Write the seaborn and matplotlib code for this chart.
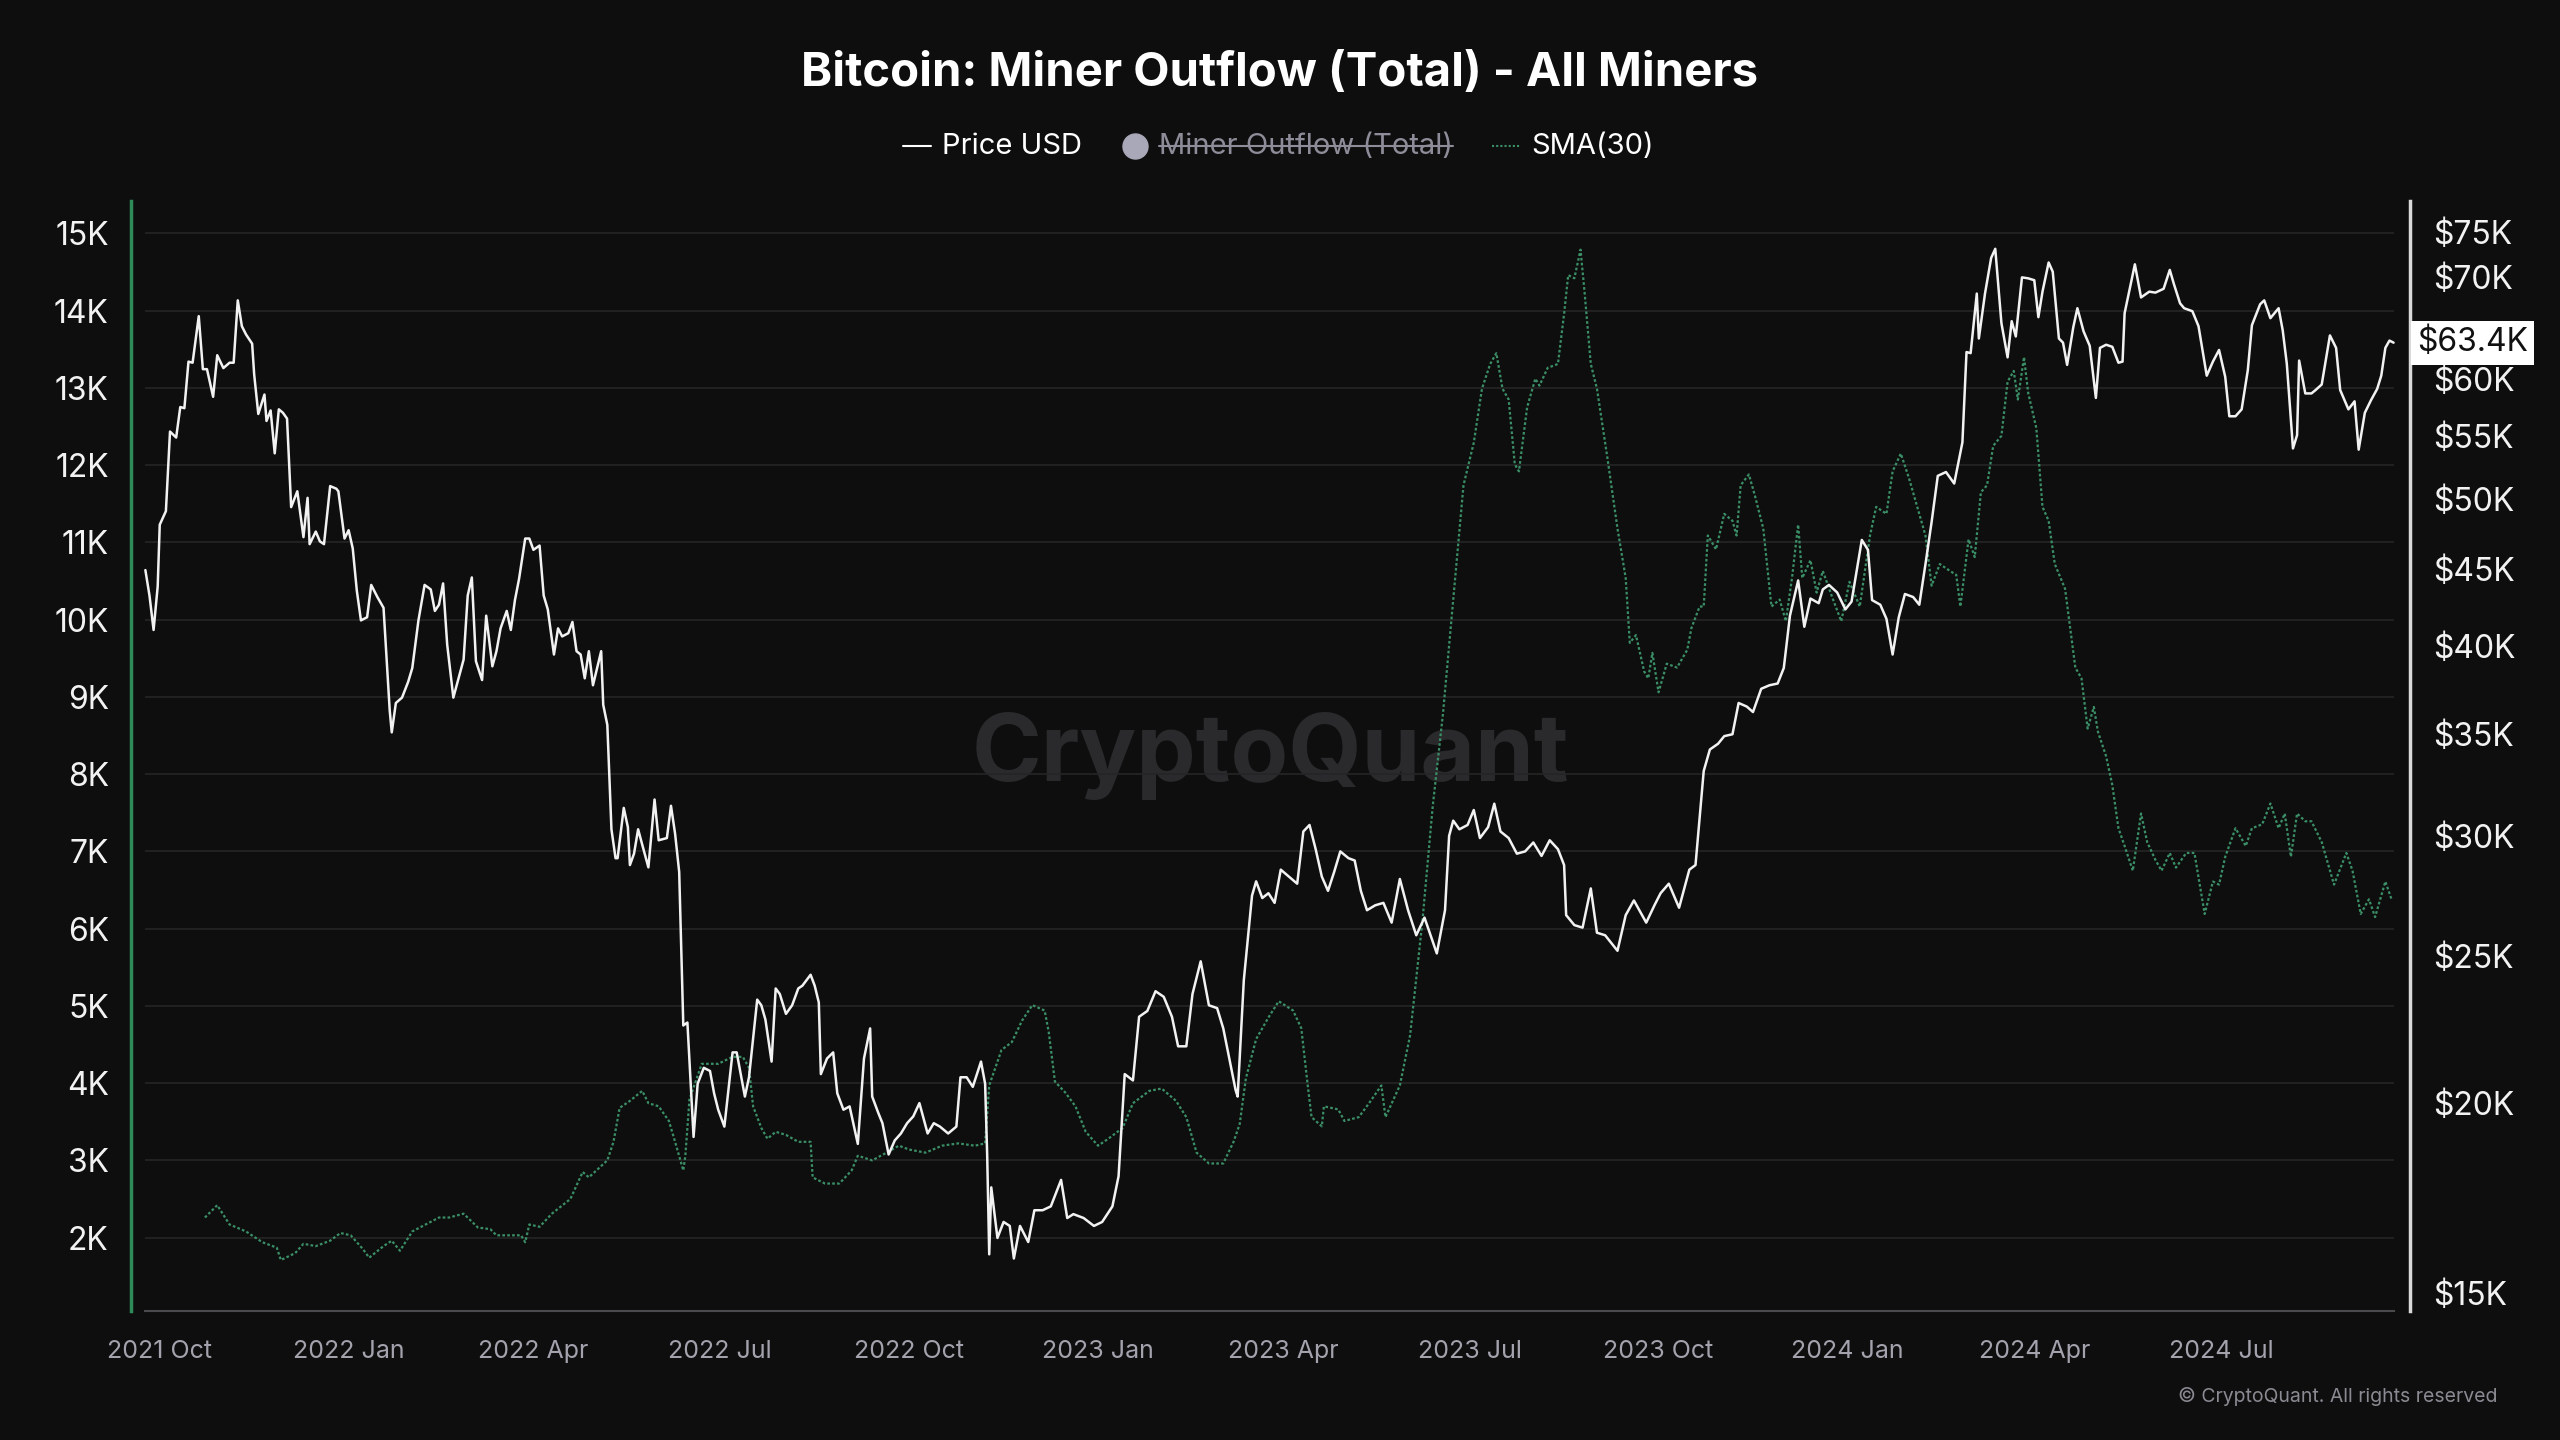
import matplotlib
matplotlib.use("Agg")
import matplotlib.pyplot as plt
import matplotlib.ticker as mticker
import matplotlib.dates as mdates
import matplotlib.transforms as mtransforms
from matplotlib.lines import Line2D
import pandas as pd
import seaborn as sns

# ---- data ----
# BTC price, thousands of USD
price_points = [
    ("2021-09-24", 44.9), ("2021-09-26", 43.2), ("2021-09-28", 41.0), ("2021-09-30", 43.8),
    ("2021-10-01", 48.1), ("2021-10-04", 49.1), ("2021-10-06", 55.4), ("2021-10-09", 54.9),
    ("2021-10-11", 57.5), ("2021-10-13", 57.4), ("2021-10-15", 61.6), ("2021-10-17", 61.5),
    ("2021-10-20", 66.0), ("2021-10-22", 60.9), ("2021-10-24", 60.9), ("2021-10-27", 58.4),
    ("2021-10-29", 62.2), ("2021-11-01", 61.0), ("2021-11-04", 61.5), ("2021-11-06", 61.5),
    ("2021-11-08", 67.6), ("2021-11-10", 65.0), ("2021-11-12", 64.2), ("2021-11-15", 63.3),
    ("2021-11-16", 60.4), ("2021-11-18", 56.9), ("2021-11-21", 58.6), ("2021-11-22", 56.3),
    ("2021-11-24", 57.2), ("2021-11-26", 53.6), ("2021-11-28", 57.3), ("2021-11-30", 57.0),
    ("2021-12-02", 56.5), ("2021-12-04", 49.4), ("2021-12-07", 50.6), ("2021-12-10", 47.2),
    ("2021-12-12", 50.1), ("2021-12-13", 46.7), ("2021-12-16", 47.6), ("2021-12-18", 46.9),
    ("2021-12-20", 46.7), ("2021-12-23", 51.0), ("2021-12-26", 50.8), ("2021-12-27", 50.6),
    ("2021-12-30", 47.1), ("2022-01-01", 47.7), ("2022-01-03", 46.4), ("2022-01-05", 43.5),
    ("2022-01-07", 41.6), ("2022-01-10", 41.8), ("2022-01-12", 43.9), ("2022-01-15", 43.1),
    ("2022-01-18", 42.4), ("2022-01-21", 36.3), ("2022-01-22", 35.1), ("2022-01-24", 36.7),
    ("2022-01-27", 37.0), ("2022-01-30", 37.9), ("2022-02-01", 38.7), ("2022-02-04", 41.6),
    ("2022-02-07", 43.9), ("2022-02-10", 43.6), ("2022-02-12", 42.2), ("2022-02-14", 42.6),
    ("2022-02-16", 44.0), ("2022-02-18", 40.1), ("2022-02-21", 37.0), ("2022-02-24", 38.3),
    ("2022-02-26", 39.2), ("2022-02-28", 43.2), ("2022-03-02", 44.4), ("2022-03-04", 39.1),
    ("2022-03-07", 38.0), ("2022-03-09", 41.9), ("2022-03-12", 38.8), ("2022-03-14", 39.7),
    ("2022-03-16", 41.1), ("2022-03-19", 42.2), ("2022-03-21", 41.0), ("2022-03-23", 42.9),
    ("2022-03-25", 44.3), ("2022-03-28", 47.1), ("2022-03-30", 47.1), ("2022-04-01", 46.3),
    ("2022-04-04", 46.6), ("2022-04-06", 43.2), ("2022-04-08", 42.3), ("2022-04-11", 39.5),
    ("2022-04-13", 41.1), ("2022-04-15", 40.6), ("2022-04-18", 40.8), ("2022-04-20", 41.5),
    ("2022-04-22", 39.7), ("2022-04-24", 39.5), ("2022-04-26", 38.1), ("2022-04-28", 39.7),
    ("2022-04-30", 37.7), ("2022-05-04", 39.7), ("2022-05-05", 36.6), ("2022-05-07", 35.5),
    ("2022-05-09", 30.3), ("2022-05-11", 29.0), ("2022-05-12", 29.0), ("2022-05-15", 31.3),
    ("2022-05-17", 30.4), ("2022-05-18", 28.7), ("2022-05-20", 29.2), ("2022-05-22", 30.3),
    ("2022-05-24", 29.6), ("2022-05-27", 28.6), ("2022-05-30", 31.7), ("2022-06-01", 29.8),
    ("2022-06-05", 29.9), ("2022-06-07", 31.4), ("2022-06-09", 30.1), ("2022-06-11", 28.4),
    ("2022-06-13", 22.5), ("2022-06-15", 22.6), ("2022-06-18", 19.0), ("2022-06-20", 20.6),
    ("2022-06-23", 21.1), ("2022-06-26", 21.0), ("2022-06-28", 20.3), ("2022-06-30", 19.8),
    ("2022-07-03", 19.3), ("2022-07-07", 21.6), ("2022-07-09", 21.6), ("2022-07-13", 20.2),
    ("2022-07-15", 20.8), ("2022-07-19", 23.4), ("2022-07-21", 23.2), ("2022-07-23", 22.7),
    ("2022-07-26", 21.3), ("2022-07-28", 23.8), ("2022-07-30", 23.6), ("2022-08-02", 22.9),
    ("2022-08-05", 23.2), ("2022-08-08", 23.8), ("2022-08-10", 23.9), ("2022-08-14", 24.3),
    ("2022-08-16", 23.9), ("2022-08-18", 23.3), ("2022-08-19", 20.9), ("2022-08-22", 21.4),
    ("2022-08-25", 21.6), ("2022-08-27", 20.3), ("2022-08-30", 19.8), ("2022-09-02", 19.9),
    ("2022-09-06", 18.8), ("2022-09-09", 21.4), ("2022-09-12", 22.4), ("2022-09-13", 20.2),
    ("2022-09-16", 19.7), ("2022-09-18", 19.4), ("2022-09-21", 18.5), ("2022-09-24", 18.9),
    ("2022-09-27", 19.1), ("2022-09-30", 19.4), ("2022-10-03", 19.6), ("2022-10-06", 20.0),
    ("2022-10-10", 19.1), ("2022-10-13", 19.4), ("2022-10-16", 19.3), ("2022-10-20", 19.1),
    ("2022-10-24", 19.3), ("2022-10-26", 20.8), ("2022-10-29", 20.8), ("2022-11-01", 20.5),
    ("2022-11-05", 21.3), ("2022-11-07", 20.6), ("2022-11-08", 18.5), ("2022-11-09", 15.9),
    ("2022-11-10", 17.6), ("2022-11-13", 16.3), ("2022-11-16", 16.7), ("2022-11-19", 16.6),
    ("2022-11-21", 15.8), ("2022-11-24", 16.6), ("2022-11-28", 16.2), ("2022-12-01", 17.0),
    ("2022-12-05", 17.0), ("2022-12-09", 17.1), ("2022-12-14", 17.8), ("2022-12-17", 16.8),
    ("2022-12-20", 16.9), ("2022-12-25", 16.8), ("2022-12-30", 16.6), ("2023-01-03", 16.7),
    ("2023-01-08", 17.1), ("2023-01-11", 17.9), ("2023-01-14", 20.9), ("2023-01-18", 20.7),
    ("2023-01-21", 22.8), ("2023-01-25", 23.0), ("2023-01-29", 23.7), ("2023-02-02", 23.5),
    ("2023-02-06", 22.8), ("2023-02-09", 21.8), ("2023-02-13", 21.8), ("2023-02-16", 23.6),
    ("2023-02-20", 24.8), ("2023-02-24", 23.2), ("2023-02-28", 23.1), ("2023-03-03", 22.4),
    ("2023-03-09", 20.4), ("2023-03-10", 20.2), ("2023-03-13", 24.1), ("2023-03-17", 27.4),
    ("2023-03-19", 28.0), ("2023-03-22", 27.3), ("2023-03-25", 27.5), ("2023-03-28", 27.1),
    ("2023-03-31", 28.5), ("2023-04-04", 28.2), ("2023-04-08", 27.9), ("2023-04-11", 30.2),
    ("2023-04-14", 30.5), ("2023-04-17", 29.4), ("2023-04-20", 28.2), ("2023-04-23", 27.6),
    ("2023-04-26", 28.4), ("2023-04-29", 29.3), ("2023-05-03", 29.0), ("2023-05-06", 28.9),
    ("2023-05-09", 27.6), ("2023-05-12", 26.8), ("2023-05-16", 27.0), ("2023-05-20", 27.1),
    ("2023-05-24", 26.3), ("2023-05-28", 28.1), ("2023-06-01", 26.8), ("2023-06-05", 25.8),
    ("2023-06-09", 26.5), ("2023-06-15", 25.1), ("2023-06-19", 26.8), ("2023-06-21", 30.0),
    ("2023-06-23", 30.7), ("2023-06-26", 30.3), ("2023-06-30", 30.5), ("2023-07-03", 31.2),
    ("2023-07-06", 29.9), ("2023-07-10", 30.4), ("2023-07-13", 31.5), ("2023-07-16", 30.2),
    ("2023-07-20", 29.9), ("2023-07-24", 29.2), ("2023-07-28", 29.3), ("2023-08-01", 29.7),
    ("2023-08-05", 29.1), ("2023-08-09", 29.8), ("2023-08-13", 29.4), ("2023-08-16", 28.7),
    ("2023-08-17", 26.6), ("2023-08-21", 26.2), ("2023-08-25", 26.1), ("2023-08-29", 27.7),
    ("2023-09-01", 25.9), ("2023-09-05", 25.8), ("2023-09-11", 25.2), ("2023-09-15", 26.6),
    ("2023-09-19", 27.2), ("2023-09-25", 26.3), ("2023-09-29", 27.0), ("2023-10-02", 27.5),
    ("2023-10-06", 27.9), ("2023-10-11", 26.9), ("2023-10-16", 28.5), ("2023-10-19", 28.7),
    ("2023-10-23", 33.1), ("2023-10-26", 34.2), ("2023-10-30", 34.5), ("2023-11-02", 34.9),
    ("2023-11-06", 35.0), ("2023-11-09", 36.7), ("2023-11-13", 36.5), ("2023-11-16", 36.2),
    ("2023-11-20", 37.5), ("2023-11-24", 37.7), ("2023-11-28", 37.8), ("2023-12-01", 38.7),
    ("2023-12-04", 41.9), ("2023-12-08", 44.2), ("2023-12-11", 41.2), ("2023-12-14", 43.0),
    ("2023-12-18", 42.7), ("2023-12-20", 43.6), ("2023-12-23", 43.9), ("2023-12-27", 43.4),
    ("2023-12-31", 42.3), ("2024-01-03", 42.8), ("2024-01-08", 47.0), ("2024-01-11", 46.3),
    ("2024-01-13", 42.9), ("2024-01-17", 42.6), ("2024-01-20", 41.7), ("2024-01-23", 39.5),
    ("2024-01-26", 41.8), ("2024-01-29", 43.3), ("2024-02-02", 43.1), ("2024-02-05", 42.6),
    ("2024-02-08", 45.3), ("2024-02-11", 48.3), ("2024-02-14", 51.8), ("2024-02-18", 52.1),
    ("2024-02-22", 51.2), ("2024-02-26", 54.5), ("2024-02-28", 62.5), ("2024-03-01", 62.4),
    ("2024-03-04", 68.3), ("2024-03-05", 63.8), ("2024-03-08", 68.3), ("2024-03-11", 72.1),
    ("2024-03-13", 73.1), ("2024-03-16", 65.3), ("2024-03-19", 62.0), ("2024-03-21", 65.5),
    ("2024-03-23", 64.0), ("2024-03-26", 70.0), ("2024-03-29", 69.9), ("2024-04-01", 69.7),
    ("2024-04-03", 65.9), ("2024-04-05", 68.5), ("2024-04-08", 71.6), ("2024-04-10", 70.6),
    ("2024-04-13", 63.8), ("2024-04-15", 63.4), ("2024-04-17", 61.3), ("2024-04-20", 64.9),
    ("2024-04-22", 66.8), ("2024-04-25", 64.5), ("2024-04-28", 63.1), ("2024-05-01", 58.3),
    ("2024-05-03", 62.9), ("2024-05-06", 63.2), ("2024-05-09", 63.0), ("2024-05-12", 61.5),
    ("2024-05-14", 61.6), ("2024-05-15", 66.3), ("2024-05-20", 71.4), ("2024-05-23", 67.9),
    ("2024-05-27", 68.5), ("2024-05-30", 68.4), ("2024-06-03", 68.8), ("2024-06-06", 70.8),
    ("2024-06-08", 69.3), ("2024-06-11", 67.3), ("2024-06-13", 66.8), ("2024-06-17", 66.5),
    ("2024-06-20", 65.0), ("2024-06-24", 60.3), ("2024-06-27", 61.6), ("2024-06-30", 62.7),
    ("2024-07-03", 60.2), ("2024-07-05", 56.7), ("2024-07-08", 56.7), ("2024-07-11", 57.3),
    ("2024-07-14", 60.8), ("2024-07-16", 65.1), ("2024-07-20", 67.2), ("2024-07-22", 67.6),
    ("2024-07-25", 65.8), ("2024-07-29", 66.8), ("2024-07-31", 64.6), ("2024-08-02", 61.4),
    ("2024-08-05", 54.0), ("2024-08-07", 55.1), ("2024-08-08", 61.7), ("2024-08-11", 58.7),
    ("2024-08-14", 58.7), ("2024-08-16", 59.0), ("2024-08-19", 59.5), ("2024-08-23", 64.1),
    ("2024-08-26", 62.9), ("2024-08-28", 59.0), ("2024-09-01", 57.3), ("2024-09-04", 58.0),
    ("2024-09-06", 53.9), ("2024-09-09", 57.0), ("2024-09-12", 58.1), ("2024-09-15", 59.1),
    ("2024-09-17", 60.3), ("2024-09-19", 62.9), ("2024-09-21", 63.6), ("2024-09-23", 63.4),
]

# Miner outflow SMA(30), thousands of BTC
sma_points = [
    ("2021-10-23", 2.26), ("2021-10-29", 2.42), ("2021-11-04", 2.17), ("2021-11-12", 2.08),
    ("2021-11-20", 1.94), ("2021-11-27", 1.87), ("2021-11-29", 1.71), ("2021-12-06", 1.80),
    ("2021-12-10", 1.92), ("2021-12-16", 1.89), ("2021-12-23", 1.96), ("2021-12-28", 2.06),
    ("2022-01-02", 2.03), ("2022-01-08", 1.85), ("2022-01-11", 1.74), ("2022-01-18", 1.89),
    ("2022-01-22", 1.96), ("2022-01-26", 1.83), ("2022-02-01", 2.08), ("2022-02-09", 2.19),
    ("2022-02-14", 2.26), ("2022-02-19", 2.26), ("2022-02-26", 2.31), ("2022-03-05", 2.13),
    ("2022-03-11", 2.11), ("2022-03-14", 2.03), ("2022-03-20", 2.03), ("2022-03-26", 2.03),
    ("2022-03-28", 1.94), ("2022-03-30", 2.17), ("2022-04-04", 2.14), ("2022-04-10", 2.31),
    ("2022-04-19", 2.50), ("2022-04-25", 2.85), ("2022-04-28", 2.78), ("2022-05-07", 3.00),
    ("2022-05-10", 3.24), ("2022-05-13", 3.68), ("2022-05-18", 3.77), ("2022-05-24", 3.90),
    ("2022-05-27", 3.74), ("2022-06-01", 3.70), ("2022-06-06", 3.51), ("2022-06-09", 3.24),
    ("2022-06-13", 2.87), ("2022-06-14", 3.06), ("2022-06-16", 3.79), ("2022-06-22", 4.25),
    ("2022-06-30", 4.25), ("2022-07-07", 4.34), ("2022-07-12", 4.34), ("2022-07-15", 4.20),
    ("2022-07-17", 3.70), ("2022-07-21", 3.42), ("2022-07-24", 3.28), ("2022-07-28", 3.37),
    ("2022-08-02", 3.33), ("2022-08-08", 3.24), ("2022-08-14", 3.24), ("2022-08-15", 2.78),
    ("2022-08-21", 2.70), ("2022-08-28", 2.70), ("2022-09-03", 2.87), ("2022-09-06", 3.06),
    ("2022-09-13", 3.00), ("2022-09-20", 3.10), ("2022-09-26", 3.19), ("2022-10-01", 3.14),
    ("2022-10-09", 3.10), ("2022-10-17", 3.19), ("2022-10-25", 3.22), ("2022-11-02", 3.19),
    ("2022-11-07", 3.22), ("2022-11-09", 3.97), ("2022-11-15", 4.43), ("2022-11-20", 4.53),
    ("2022-11-25", 4.81), ("2022-11-30", 5.01), ("2022-12-06", 4.94), ("2022-12-08", 4.66),
    ("2022-12-11", 4.02), ("2022-12-16", 3.88), ("2022-12-21", 3.70), ("2022-12-26", 3.37),
    ("2023-01-01", 3.19), ("2023-01-06", 3.28), ("2023-01-13", 3.42), ("2023-01-18", 3.74),
    ("2023-01-26", 3.90), ("2023-02-01", 3.93), ("2023-02-08", 3.77), ("2023-02-13", 3.56),
    ("2023-02-18", 3.10), ("2023-02-24", 2.96), ("2023-03-03", 2.96), ("2023-03-08", 3.24),
    ("2023-03-11", 3.47), ("2023-03-14", 4.06), ("2023-03-19", 4.57), ("2023-03-25", 4.85),
    ("2023-03-30", 5.06), ("2023-04-06", 4.94), ("2023-04-10", 4.71), ("2023-04-13", 4.00),
    ("2023-04-15", 3.56), ("2023-04-20", 3.44), ("2023-04-21", 3.70), ("2023-04-28", 3.66),
    ("2023-05-01", 3.51), ("2023-05-08", 3.56), ("2023-05-13", 3.74), ("2023-05-19", 3.97),
    ("2023-05-21", 3.56), ("2023-05-28", 3.97), ("2023-06-02", 4.62), ("2023-06-08", 6.10),
    ("2023-06-13", 7.58), ("2023-06-18", 8.78), ("2023-06-23", 10.26), ("2023-06-28", 11.74),
    ("2023-07-03", 12.29), ("2023-07-07", 12.99), ("2023-07-11", 13.31), ("2023-07-14", 13.45),
    ("2023-07-17", 12.99), ("2023-07-20", 12.85), ("2023-07-23", 12.01), ("2023-07-25", 11.92),
    ("2023-07-29", 12.75), ("2023-08-02", 13.12), ("2023-08-04", 13.03), ("2023-08-08", 13.26),
    ("2023-08-13", 13.31), ("2023-08-16", 13.96), ("2023-08-18", 14.46), ("2023-08-21", 14.42),
    ("2023-08-24", 14.79), ("2023-08-26", 14.23), ("2023-08-29", 13.31), ("2023-09-01", 12.99),
    ("2023-09-06", 12.11), ("2023-09-11", 11.18), ("2023-09-15", 10.54), ("2023-09-17", 9.70),
    ("2023-09-20", 9.80), ("2023-09-24", 9.33), ("2023-09-26", 9.24), ("2023-09-28", 9.57),
    ("2023-10-01", 9.06), ("2023-10-05", 9.43), ("2023-10-10", 9.38), ("2023-10-15", 9.61),
    ("2023-10-17", 9.89), ("2023-10-21", 10.17), ("2023-10-23", 10.17), ("2023-10-25", 11.09),
    ("2023-10-29", 10.91), ("2023-11-02", 11.37), ("2023-11-06", 11.28), ("2023-11-08", 11.09),
    ("2023-11-10", 11.74), ("2023-11-14", 11.88), ("2023-11-17", 11.60), ("2023-11-21", 11.18),
    ("2023-11-25", 10.17), ("2023-11-29", 10.26), ("2023-12-02", 9.98), ("2023-12-05", 10.54),
    ("2023-12-08", 11.23), ("2023-12-10", 10.54), ("2023-12-14", 10.77), ("2023-12-17", 10.35),
    ("2023-12-20", 10.63), ("2023-12-25", 10.26), ("2023-12-29", 9.98), ("2024-01-02", 10.49),
    ("2024-01-07", 10.17), ("2024-01-12", 11.09), ("2024-01-15", 11.46), ("2024-01-20", 11.37),
    ("2024-01-23", 11.92), ("2024-01-27", 12.15), ("2024-01-31", 11.83), ("2024-02-05", 11.37),
    ("2024-02-08", 11.09), ("2024-02-11", 10.44), ("2024-02-15", 10.72), ("2024-02-20", 10.63),
    ("2024-02-23", 10.58), ("2024-02-25", 10.17), ("2024-02-29", 11.04), ("2024-03-03", 10.81),
    ("2024-03-06", 11.65), ("2024-03-09", 11.74), ("2024-03-12", 12.25), ("2024-03-16", 12.38),
    ("2024-03-19", 13.08), ("2024-03-22", 13.22), ("2024-03-24", 12.85), ("2024-03-27", 13.40),
    ("2024-03-29", 12.94), ("2024-04-02", 12.48), ("2024-04-05", 11.46), ("2024-04-08", 11.28),
    ("2024-04-11", 10.72), ("2024-04-16", 10.40), ("2024-04-21", 9.38), ("2024-04-24", 9.24),
    ("2024-04-27", 8.59), ("2024-04-30", 8.87), ("2024-05-02", 8.55), ("2024-05-06", 8.23),
    ("2024-05-09", 7.86), ("2024-05-12", 7.30), ("2024-05-15", 7.07), ("2024-05-19", 6.75),
    ("2024-05-23", 7.49), ("2024-05-26", 7.12), ("2024-05-30", 6.89), ("2024-06-02", 6.75),
    ("2024-06-06", 6.98), ("2024-06-09", 6.79), ("2024-06-14", 6.98), ("2024-06-18", 6.98),
    ("2024-06-23", 6.19), ("2024-06-27", 6.61), ("2024-06-30", 6.57), ("2024-07-03", 6.93),
    ("2024-07-08", 7.30), ("2024-07-13", 7.07), ("2024-07-16", 7.30), ("2024-07-21", 7.35),
    ("2024-07-25", 7.62), ("2024-07-29", 7.30), ("2024-08-01", 7.49), ("2024-08-04", 6.93),
    ("2024-08-07", 7.49), ("2024-08-11", 7.39), ("2024-08-14", 7.39), ("2024-08-19", 7.12),
    ("2024-08-25", 6.57), ("2024-08-31", 6.98), ("2024-09-03", 6.75), ("2024-09-07", 6.19),
    ("2024-09-11", 6.38), ("2024-09-14", 6.15), ("2024-09-19", 6.61), ("2024-09-22", 6.38),
]

left_ticks = [2, 3, 4, 5, 6, 7, 8, 9, 10, 11, 12, 13, 14, 15]
right_ticks = [15, 20, 25, 30, 35, 40, 45, 50, 55, 60, 70, 75]
xtick_dates = ["2021-10-01", "2022-01-01", "2022-04-01", "2022-07-01", "2022-10-01",
               "2023-01-01", "2023-04-01", "2023-07-01", "2023-10-01", "2024-01-01",
               "2024-04-01", "2024-07-01"]
xtick_labels = ["2021 Oct", "2022 Jan", "2022 Apr", "2022 Jul", "2022 Oct", "2023 Jan",
                "2023 Apr", "2023 Jul", "2023 Oct", "2024 Jan", "2024 Apr", "2024 Jul"]
last_price = 63.4

price_df = pd.DataFrame(price_points, columns=["date", "price"])
price_df["date"] = pd.to_datetime(price_df["date"])
sma_df = pd.DataFrame(sma_points, columns=["date", "sma"])
sma_df["date"] = pd.to_datetime(sma_df["date"])

# ---- style ----
BG = "#0e0e0f"
GRID = "#252527"
GREEN = "#2f8a5a"
SMA_GREEN = "#3b8f66"
sns.set_theme(style="dark", rc={"axes.facecolor": BG, "figure.facecolor": BG,
                                "axes.edgecolor": BG, "text.color": "white"})
plt.rcParams["font.family"] = ["Inter", "DejaVu Sans"]

W, H = 2560, 1440


def fx(px):
    return px / W


def fy(py):
    return 1 - py / H


fig = plt.figure(figsize=(25.6, 14.4), dpi=100, facecolor=BG)
ax = fig.add_axes([fx(131), fy(1311), fx(2410) - fx(131), fy(201) - fy(1311)])
ax2 = ax.twinx()

x_start = pd.Timestamp("2021-09-17")
x_end = pd.Timestamp("2024-10-01")
data_start = price_df["date"].min()
data_end = price_df["date"].max()

# watermark
ax.text(0.5, 0.5, "CryptoQuant", transform=ax.transAxes, ha="center", va="center",
        fontsize=68, fontweight="bold", color="#2a2a2d", zorder=0)

# grid
ax.hlines(left_ticks, data_start, data_end, color=GRID, lw=1.2, zorder=1)

sns.lineplot(data=sma_df, x="date", y="sma", ax=ax, color=SMA_GREEN, lw=1.6,
             linestyle=(0, (1.2, 1.0)), zorder=3)
sns.lineplot(data=price_df, x="date", y="price", ax=ax2, color="#f2f2f2", lw=1.8, zorder=4)

ax.set_xlim(x_start, x_end)
ax.set_ylim(1.05, 15.42)
ax2.set_yscale("log")
ax2.set_ylim(14.59, 78.6)

for a in (ax, ax2):
    a.set_xlabel("")
    a.set_ylabel("")
    a.grid(False)
    for s in a.spines.values():
        s.set_visible(False)

ax.spines["left"].set_visible(True)
ax.spines["left"].set_color(GREEN)
ax.spines["left"].set_linewidth(2.5)
ax2.spines["right"].set_visible(True)
ax2.spines["right"].set_color("#d9d9d9")
ax2.spines["right"].set_linewidth(2.5)
ax.spines["bottom"].set_visible(True)
ax.spines["bottom"].set_color("#4a4a4e")
ax.spines["bottom"].set_linewidth(1.5)
ax.spines["bottom"].set_bounds(mdates.date2num(data_start), mdates.date2num(data_end))

ax.set_yticks(left_ticks)
ax.set_yticklabels([f"{v}K" for v in left_ticks])
ax.tick_params(axis="y", length=0, pad=16, labelsize=23, labelcolor="#f2f2f2")

ax2.yaxis.set_major_locator(mticker.FixedLocator(right_ticks))
ax2.yaxis.set_minor_locator(mticker.NullLocator())
ax2.yaxis.set_major_formatter(mticker.FuncFormatter(lambda v, p: f"${v:g}K"))
ax2.tick_params(axis="y", which="both", length=0, pad=17, labelsize=23, labelcolor="#f2f2f2")

ax.set_xticks(pd.to_datetime(xtick_dates))
ax.set_xticklabels(xtick_labels)
ax.tick_params(axis="x", length=11, width=1.2, color="#4a4a4e", pad=10,
               labelsize=18, labelcolor="#a3a2ad")

# current price tag, boxed against the right spine
tag_tr = mtransforms.offset_copy(ax2.get_yaxis_transform(), fig=fig, x=7, y=0, units="dots")
ax2.text(1.0, last_price, f"${last_price:g}K", transform=tag_tr,
         ha="left", va="center", fontsize=23, color="#111111",
         bbox=dict(boxstyle="square,pad=0.2", fc="white", ec="none"), zorder=6, clip_on=False)

# title
fig.text(0.5, fy(74), "Bitcoin: Miner Outflow (Total) - All Miners", ha="center",
         va="center", fontsize=34, fontweight="bold", color="white")

# legend
ly = fy(146)
fig.add_artist(Line2D([fx(903), fx(931)], [ly, ly], color="white", lw=1.5,
                      transform=fig.transFigure))
fig.text(fx(942), ly, "Price USD", va="center", fontsize=21, color="white")
fig.add_artist(Line2D([fx(1135)], [ly], marker="o", markersize=18, color="#a9a8b8",
                      lw=0, transform=fig.transFigure))
miner_txt = fig.text(fx(1159), ly, "Miner Outflow (Total)", va="center", fontsize=21,
                     color="#8d8c98")
fig.add_artist(Line2D([fx(1492), fx(1520)], [ly, ly], color=SMA_GREEN, lw=1.5,
                      linestyle=(0, (1, 1)), transform=fig.transFigure))
fig.text(fx(1531), ly, "SMA(30)", va="center", fontsize=21, color="white")

fig.canvas.draw()
bb = miner_txt.get_window_extent().transformed(fig.transFigure.inverted())
fig.add_artist(Line2D([bb.x0, bb.x1], [ly, ly], color="#8d8c98", lw=1.5,
                      transform=fig.transFigure))

# copyright
fig.text(fx(2497), fy(1396), "\u00a9 CryptoQuant. All rights reserved", ha="right",
         va="center", fontsize=14, color="#8a8a92")

fig.savefig("out.png", dpi=100, facecolor=BG)
